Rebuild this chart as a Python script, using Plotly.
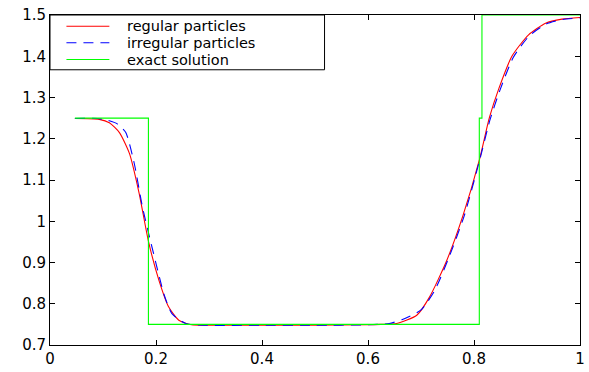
import plotly.graph_objects as go

# regular particles (red solid)
reg_x = [0.047, 0.093, 0.112, 0.131, 0.150, 0.168, 0.186, 0.206, 0.224, 0.243, 0.267, 0.30,
         0.40, 0.50, 0.60, 0.625, 0.654, 0.692, 0.716, 0.748, 0.779, 0.810, 0.829, 0.847,
         0.872, 0.903, 0.935, 0.966, 1.0]
reg_y = [1.249, 1.247, 1.239, 1.215, 1.164, 1.069, 0.950, 0.855, 0.792, 0.760, 0.749, 0.748,
         0.748, 0.748, 0.749, 0.750, 0.752, 0.772, 0.816, 0.903, 1.013, 1.148, 1.251, 1.322,
         1.401, 1.452, 1.480, 1.490, 1.494]

# irregular particles (blue dashed)
irr_x = [0.047, 0.090, 0.108, 0.127, 0.143, 0.159, 0.174, 0.187, 0.199, 0.215, 0.230, 0.256,
         0.29, 0.40, 0.50, 0.60, 0.64, 0.665, 0.70, 0.725, 0.752, 0.782, 0.810, 0.830,
         0.849, 0.874, 0.904, 0.936, 0.967, 1.0]
irr_y = [1.249, 1.249, 1.245, 1.236, 1.215, 1.140, 1.037, 0.966, 0.903, 0.823, 0.776, 0.752,
         0.748, 0.748, 0.748, 0.749, 0.752, 0.762, 0.785, 0.830, 0.910, 1.015, 1.145, 1.245,
         1.318, 1.397, 1.449, 1.478, 1.489, 1.493]

# exact solution (green)
ex_x = [0.047, 0.1857, 0.1857, 0.810, 0.810, 0.815, 0.815, 1.0]
ex_y = [1.25, 1.25, 0.75, 0.75, 1.25, 1.25, 1.5, 1.5]

x_ticks = [0, 0.2, 0.4, 0.6, 0.8, 1]
x_labels = ["0", "0.2", "0.4", "0.6", "0.8", "1"]
y_ticks = [0.7, 0.8, 0.9, 1.0, 1.1, 1.2, 1.3, 1.4, 1.5]
y_labels = ["0.7", "0.8", "0.9", "1", "1.1", "1.2", "1.3", "1.4", "1.5"]

series_names = ["regular particles", "irregular particles", "exact solution"]
series_colors = ["#ff0000", "#0000ff", "#00ff00"]
series_dash = ["solid", "10px,7px", "solid"]

FONT = "DejaVu Sans, Arial"

fig = go.Figure()
for name, xs, ys, col, dash, spline in [
    (series_names[0], reg_x, reg_y, series_colors[0], series_dash[0], True),
    (series_names[1], irr_x, irr_y, series_colors[1], series_dash[1], True),
    (series_names[2], ex_x, ex_y, series_colors[2], series_dash[2], False),
]:
    line = dict(color=col, width=1.1, dash=dash)
    if spline:
        line.update(shape="spline", smoothing=0.6)
    fig.add_trace(go.Scatter(x=xs, y=ys, mode="lines", name=name, line=line, showlegend=False))

axis_common = dict(showgrid=False, zeroline=False, showline=True, linecolor="black", linewidth=1,
                   mirror="ticks", ticks="inside", ticklen=5, tickcolor="black",
                   tickfont=dict(family=FONT, size=15, color="black"))

# legend drawn as a boxed key in the upper-left corner of the plot area
leg_x0, leg_x1, leg_y0, leg_y1 = 0.0, 0.518, 0.834, 1.0
row_y = [0.966, 0.916, 0.865]
sample_x = [0.031, 0.112]
text_x = 0.146

shapes = [dict(type="rect", xref="paper", yref="paper", x0=leg_x0, x1=leg_x1, y0=leg_y0, y1=leg_y1,
               line=dict(color="black", width=1), fillcolor="white", layer="above")]
annotations = []
for name, col, dash, ry in zip(series_names, series_colors, series_dash, row_y):
    shapes.append(dict(type="line", xref="paper", yref="paper", x0=sample_x[0], x1=sample_x[1],
                       y0=ry, y1=ry, line=dict(color=col, width=1.1, dash=dash), layer="above"))
    annotations.append(dict(xref="paper", yref="paper", x=text_x, y=ry, text=name, showarrow=False,
                            xanchor="left", yanchor="middle", borderpad=0, borderwidth=0,
                            font=dict(family=FONT, size=14.5, color="black")))

fig.update_layout(
    width=589, height=372,
    margin=dict(l=50, r=4, t=15, b=20),
    paper_bgcolor="white", plot_bgcolor="white",
    xaxis=dict(range=[0, 1], tickvals=x_ticks, ticktext=x_labels, **axis_common),
    yaxis=dict(range=[0.7, 1.5], tickvals=y_ticks, ticktext=y_labels, **axis_common),
    shapes=shapes, annotations=annotations,
    showlegend=False,
)

fig.write_html("out.html")
